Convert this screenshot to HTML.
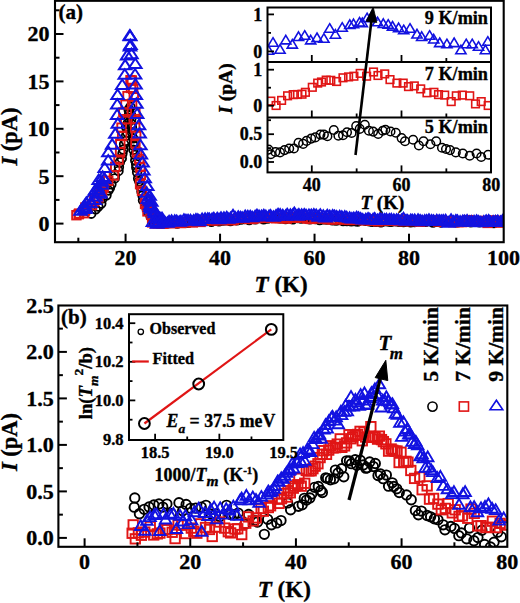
<!DOCTYPE html>
<html><head><meta charset="utf-8"><style>
html,body{margin:0;padding:0;background:#fff;width:520px;height:603px;overflow:hidden}
svg{display:block}
text{font-family:"Liberation Serif",serif;stroke:#000;stroke-width:0.35px}
</style></head><body>
<svg width="520" height="603" viewBox="0 0 520 603">
<rect width="520" height="603" fill="#fff"/>
<defs>
<clipPath id="ca"><rect x="55.0" y="0.8" width="448.7" height="241.39999999999998"/></clipPath>
</defs>
<g clip-path="url(#ca)">
<g fill="none" stroke="#000" stroke-width="1.8"><circle cx="91.27" cy="213.69" r="4.30"/><circle cx="95.71" cy="209.33" r="4.30"/><circle cx="98.35" cy="206.54" r="4.30"/><circle cx="101.30" cy="203.58" r="4.30"/><circle cx="102.68" cy="198.32" r="4.30"/><circle cx="106.50" cy="195.29" r="4.30"/><circle cx="108.45" cy="190.44" r="4.30"/><circle cx="109.91" cy="187.90" r="4.30"/><circle cx="111.41" cy="184.28" r="4.30"/><circle cx="114.69" cy="178.39" r="4.30"/><circle cx="114.84" cy="175.34" r="4.30"/><circle cx="118.53" cy="170.92" r="4.30"/><circle cx="118.95" cy="166.90" r="4.30"/><circle cx="119.87" cy="162.21" r="4.30"/><circle cx="121.78" cy="158.39" r="4.30"/><circle cx="122.46" cy="153.49" r="4.30"/><circle cx="123.29" cy="149.54" r="4.30"/><circle cx="124.08" cy="144.21" r="4.30"/><circle cx="125.83" cy="140.83" r="4.30"/><circle cx="126.10" cy="135.64" r="4.30"/><circle cx="127.34" cy="132.52" r="4.30"/><circle cx="126.09" cy="126.99" r="4.30"/><circle cx="127.79" cy="123.28" r="4.30"/><circle cx="128.72" cy="118.22" r="4.30"/><circle cx="129.08" cy="114.26" r="4.30"/><circle cx="128.64" cy="109.63" r="4.30"/><circle cx="130.41" cy="106.90" r="4.30"/><circle cx="129.09" cy="109.64" r="4.30"/><circle cx="131.13" cy="115.42" r="4.30"/><circle cx="131.28" cy="119.04" r="4.30"/><circle cx="131.60" cy="124.11" r="4.30"/><circle cx="132.00" cy="127.69" r="4.30"/><circle cx="132.15" cy="132.64" r="4.30"/><circle cx="133.18" cy="138.32" r="4.30"/><circle cx="134.12" cy="141.89" r="4.30"/><circle cx="133.67" cy="145.81" r="4.30"/><circle cx="133.41" cy="149.79" r="4.30"/><circle cx="134.83" cy="154.84" r="4.30"/><circle cx="135.22" cy="160.45" r="4.30"/><circle cx="136.17" cy="164.24" r="4.30"/><circle cx="136.26" cy="167.62" r="4.30"/><circle cx="137.10" cy="172.29" r="4.30"/><circle cx="138.14" cy="178.47" r="4.30"/><circle cx="139.29" cy="181.25" r="4.30"/><circle cx="140.75" cy="186.87" r="4.30"/><circle cx="141.45" cy="191.47" r="4.30"/><circle cx="142.54" cy="195.62" r="4.30"/><circle cx="142.98" cy="200.32" r="4.30"/><circle cx="145.45" cy="203.00" r="4.30"/><circle cx="146.52" cy="208.33" r="4.30"/><circle cx="148.14" cy="211.89" r="4.30"/><circle cx="150.59" cy="216.46" r="4.30"/><circle cx="153.79" cy="219.45" r="4.30"/><circle cx="153.43" cy="223.12" r="4.30"/><circle cx="157.90" cy="223.45" r="4.30"/><circle cx="161.72" cy="223.45" r="4.30"/><circle cx="165.90" cy="223.44" r="4.30"/><circle cx="168.59" cy="223.18" r="4.30"/><circle cx="172.76" cy="221.57" r="4.30"/><circle cx="177.23" cy="223.57" r="4.30"/><circle cx="179.72" cy="222.68" r="4.30"/><circle cx="184.41" cy="222.15" r="4.30"/><circle cx="188.39" cy="222.77" r="4.30"/><circle cx="192.04" cy="221.43" r="4.30"/><circle cx="195.67" cy="221.67" r="4.30"/><circle cx="198.90" cy="220.89" r="4.30"/><circle cx="203.00" cy="221.43" r="4.30"/><circle cx="207.25" cy="220.86" r="4.30"/><circle cx="211.41" cy="221.71" r="4.30"/><circle cx="214.19" cy="220.89" r="4.30"/><circle cx="218.99" cy="221.30" r="4.30"/><circle cx="222.67" cy="220.44" r="4.30"/><circle cx="225.19" cy="220.40" r="4.30"/><circle cx="230.39" cy="220.95" r="4.30"/><circle cx="232.91" cy="219.98" r="4.30"/><circle cx="237.08" cy="220.41" r="4.30"/><circle cx="241.01" cy="219.63" r="4.30"/><circle cx="244.78" cy="219.17" r="4.30"/><circle cx="249.21" cy="219.99" r="4.30"/><circle cx="252.86" cy="218.73" r="4.30"/><circle cx="255.33" cy="219.38" r="4.30"/><circle cx="260.42" cy="218.13" r="4.30"/><circle cx="263.65" cy="219.23" r="4.30"/><circle cx="267.70" cy="218.64" r="4.30"/><circle cx="271.22" cy="217.91" r="4.30"/><circle cx="274.45" cy="217.86" r="4.30"/><circle cx="279.56" cy="218.25" r="4.30"/><circle cx="281.64" cy="218.42" r="4.30"/><circle cx="285.54" cy="218.96" r="4.30"/><circle cx="289.59" cy="218.30" r="4.30"/><circle cx="292.89" cy="219.42" r="4.30"/><circle cx="297.75" cy="217.94" r="4.30"/><circle cx="300.99" cy="218.58" r="4.30"/><circle cx="305.81" cy="218.43" r="4.30"/><circle cx="309.81" cy="219.21" r="4.30"/><circle cx="312.29" cy="218.68" r="4.30"/><circle cx="315.54" cy="219.08" r="4.30"/><circle cx="319.64" cy="220.08" r="4.30"/><circle cx="323.34" cy="219.33" r="4.30"/><circle cx="326.90" cy="219.55" r="4.30"/><circle cx="332.41" cy="220.36" r="4.30"/><circle cx="336.08" cy="220.58" r="4.30"/><circle cx="339.14" cy="219.96" r="4.30"/><circle cx="343.16" cy="220.98" r="4.30"/><circle cx="346.89" cy="220.98" r="4.30"/><circle cx="351.27" cy="221.31" r="4.30"/><circle cx="354.64" cy="220.97" r="4.30"/><circle cx="357.51" cy="221.47" r="4.30"/><circle cx="361.82" cy="219.99" r="4.30"/><circle cx="365.65" cy="220.79" r="4.30"/><circle cx="369.49" cy="221.30" r="4.30"/><circle cx="372.21" cy="221.88" r="4.30"/><circle cx="376.07" cy="221.88" r="4.30"/><circle cx="380.92" cy="222.20" r="4.30"/><circle cx="384.18" cy="221.39" r="4.30"/><circle cx="388.63" cy="221.61" r="4.30"/><circle cx="391.18" cy="221.74" r="4.30"/><circle cx="396.13" cy="221.36" r="4.30"/><circle cx="399.49" cy="221.84" r="4.30"/><circle cx="403.53" cy="222.01" r="4.30"/><circle cx="406.78" cy="221.45" r="4.30"/><circle cx="410.66" cy="222.23" r="4.30"/><circle cx="414.46" cy="222.14" r="4.30"/><circle cx="418.98" cy="221.32" r="4.30"/><circle cx="422.69" cy="221.83" r="4.30"/><circle cx="425.67" cy="221.80" r="4.30"/><circle cx="429.31" cy="221.11" r="4.30"/><circle cx="432.99" cy="222.64" r="4.30"/><circle cx="436.61" cy="221.69" r="4.30"/><circle cx="440.81" cy="222.44" r="4.30"/><circle cx="444.81" cy="221.23" r="4.30"/><circle cx="449.37" cy="221.81" r="4.30"/><circle cx="452.76" cy="221.65" r="4.30"/><circle cx="456.99" cy="222.36" r="4.30"/><circle cx="459.32" cy="221.94" r="4.30"/><circle cx="463.87" cy="221.75" r="4.30"/><circle cx="468.24" cy="221.27" r="4.30"/><circle cx="470.78" cy="222.23" r="4.30"/><circle cx="475.42" cy="221.25" r="4.30"/><circle cx="479.51" cy="222.25" r="4.30"/><circle cx="482.32" cy="221.91" r="4.30"/><circle cx="487.05" cy="222.19" r="4.30"/><circle cx="490.12" cy="221.70" r="4.30"/><circle cx="493.90" cy="223.05" r="4.30"/><circle cx="497.18" cy="221.58" r="4.30"/><circle cx="500.67" cy="221.25" r="4.30"/><circle cx="506.31" cy="222.52" r="4.30"/></g>
<g fill="none" stroke="#e01515" stroke-width="1.9"><rect x="72.19" y="210.96" width="8.50" height="8.50"/><rect x="74.50" y="209.95" width="8.50" height="8.50"/><rect x="74.84" y="209.33" width="8.50" height="8.50"/><rect x="79.84" y="208.93" width="8.50" height="8.50"/><rect x="80.64" y="206.36" width="8.50" height="8.50"/><rect x="81.14" y="205.06" width="8.50" height="8.50"/><rect x="81.10" y="203.30" width="8.50" height="8.50"/><rect x="82.68" y="203.53" width="8.50" height="8.50"/><rect x="87.62" y="200.81" width="8.50" height="8.50"/><rect x="89.98" y="197.11" width="8.50" height="8.50"/><rect x="90.49" y="195.50" width="8.50" height="8.50"/><rect x="94.28" y="193.17" width="8.50" height="8.50"/><rect x="96.88" y="188.77" width="8.50" height="8.50"/><rect x="97.79" y="187.07" width="8.50" height="8.50"/><rect x="99.41" y="183.23" width="8.50" height="8.50"/><rect x="103.99" y="176.58" width="8.50" height="8.50"/><rect x="109.71" y="171.22" width="8.50" height="8.50"/><rect x="110.97" y="162.60" width="8.50" height="8.50"/><rect x="114.28" y="155.37" width="8.50" height="8.50"/><rect x="115.85" y="148.10" width="8.50" height="8.50"/><rect x="116.03" y="139.41" width="8.50" height="8.50"/><rect x="117.93" y="131.60" width="8.50" height="8.50"/><rect x="117.28" y="123.42" width="8.50" height="8.50"/><rect x="120.98" y="114.97" width="8.50" height="8.50"/><rect x="119.10" y="108.23" width="8.50" height="8.50"/><rect x="121.22" y="100.13" width="8.50" height="8.50"/><rect x="123.27" y="91.86" width="8.50" height="8.50"/><rect x="126.78" y="83.69" width="8.50" height="8.50"/><rect x="126.21" y="75.90" width="8.50" height="8.50"/><rect x="127.62" y="76.23" width="8.50" height="8.50"/><rect x="128.93" y="84.60" width="8.50" height="8.50"/><rect x="129.53" y="92.52" width="8.50" height="8.50"/><rect x="127.87" y="99.59" width="8.50" height="8.50"/><rect x="131.09" y="107.94" width="8.50" height="8.50"/><rect x="131.45" y="114.86" width="8.50" height="8.50"/><rect x="130.94" y="123.08" width="8.50" height="8.50"/><rect x="131.96" y="131.70" width="8.50" height="8.50"/><rect x="131.17" y="138.95" width="8.50" height="8.50"/><rect x="132.76" y="148.30" width="8.50" height="8.50"/><rect x="135.02" y="154.75" width="8.50" height="8.50"/><rect x="136.09" y="162.65" width="8.50" height="8.50"/><rect x="136.55" y="170.56" width="8.50" height="8.50"/><rect x="135.83" y="179.97" width="8.50" height="8.50"/><rect x="137.77" y="186.55" width="8.50" height="8.50"/><rect x="141.60" y="195.71" width="8.50" height="8.50"/><rect x="140.79" y="199.68" width="8.50" height="8.50"/><rect x="142.80" y="202.91" width="8.50" height="8.50"/><rect x="143.23" y="207.14" width="8.50" height="8.50"/><rect x="147.01" y="210.45" width="8.50" height="8.50"/><rect x="149.95" y="212.36" width="8.50" height="8.50"/><rect x="151.83" y="214.08" width="8.50" height="8.50"/><rect x="154.66" y="215.86" width="8.50" height="8.50"/><rect x="147.87" y="218.14" width="8.50" height="8.50"/><rect x="150.64" y="219.13" width="8.50" height="8.50"/><rect x="153.93" y="219.00" width="8.50" height="8.50"/><rect x="159.14" y="219.42" width="8.50" height="8.50"/><rect x="162.19" y="218.64" width="8.50" height="8.50"/><rect x="166.78" y="218.88" width="8.50" height="8.50"/><rect x="170.42" y="218.82" width="8.50" height="8.50"/><rect x="174.11" y="217.63" width="8.50" height="8.50"/><rect x="176.97" y="218.80" width="8.50" height="8.50"/><rect x="180.88" y="217.94" width="8.50" height="8.50"/><rect x="185.68" y="217.75" width="8.50" height="8.50"/><rect x="188.57" y="218.16" width="8.50" height="8.50"/><rect x="191.89" y="216.64" width="8.50" height="8.50"/><rect x="196.34" y="217.67" width="8.50" height="8.50"/><rect x="199.45" y="216.25" width="8.50" height="8.50"/><rect x="203.61" y="215.51" width="8.50" height="8.50"/><rect x="208.63" y="216.30" width="8.50" height="8.50"/><rect x="211.85" y="215.99" width="8.50" height="8.50"/><rect x="215.07" y="214.46" width="8.50" height="8.50"/><rect x="219.14" y="215.94" width="8.50" height="8.50"/><rect x="223.17" y="215.59" width="8.50" height="8.50"/><rect x="227.58" y="216.06" width="8.50" height="8.50"/><rect x="229.56" y="215.50" width="8.50" height="8.50"/><rect x="233.86" y="214.24" width="8.50" height="8.50"/><rect x="238.18" y="213.67" width="8.50" height="8.50"/><rect x="241.84" y="213.89" width="8.50" height="8.50"/><rect x="244.85" y="214.65" width="8.50" height="8.50"/><rect x="248.78" y="214.65" width="8.50" height="8.50"/><rect x="253.10" y="213.81" width="8.50" height="8.50"/><rect x="257.60" y="213.58" width="8.50" height="8.50"/><rect x="261.06" y="212.76" width="8.50" height="8.50"/><rect x="263.55" y="213.58" width="8.50" height="8.50"/><rect x="267.93" y="212.97" width="8.50" height="8.50"/><rect x="271.66" y="214.04" width="8.50" height="8.50"/><rect x="275.57" y="213.79" width="8.50" height="8.50"/><rect x="280.53" y="213.33" width="8.50" height="8.50"/><rect x="282.52" y="214.34" width="8.50" height="8.50"/><rect x="286.95" y="213.04" width="8.50" height="8.50"/><rect x="291.83" y="213.57" width="8.50" height="8.50"/><rect x="295.44" y="212.14" width="8.50" height="8.50"/><rect x="298.80" y="213.34" width="8.50" height="8.50"/><rect x="302.89" y="214.32" width="8.50" height="8.50"/><rect x="306.60" y="214.67" width="8.50" height="8.50"/><rect x="310.21" y="214.20" width="8.50" height="8.50"/><rect x="313.42" y="213.43" width="8.50" height="8.50"/><rect x="316.93" y="213.88" width="8.50" height="8.50"/><rect x="321.13" y="214.43" width="8.50" height="8.50"/><rect x="324.03" y="214.95" width="8.50" height="8.50"/><rect x="328.00" y="215.20" width="8.50" height="8.50"/><rect x="332.03" y="215.16" width="8.50" height="8.50"/><rect x="336.18" y="214.63" width="8.50" height="8.50"/><rect x="339.88" y="215.34" width="8.50" height="8.50"/><rect x="344.55" y="215.65" width="8.50" height="8.50"/><rect x="347.56" y="215.70" width="8.50" height="8.50"/><rect x="351.35" y="215.19" width="8.50" height="8.50"/><rect x="354.80" y="215.22" width="8.50" height="8.50"/><rect x="359.52" y="216.16" width="8.50" height="8.50"/><rect x="363.62" y="215.12" width="8.50" height="8.50"/><rect x="367.31" y="216.49" width="8.50" height="8.50"/><rect x="369.94" y="215.45" width="8.50" height="8.50"/><rect x="373.87" y="217.08" width="8.50" height="8.50"/><rect x="378.67" y="216.10" width="8.50" height="8.50"/><rect x="381.23" y="215.60" width="8.50" height="8.50"/><rect x="384.56" y="216.27" width="8.50" height="8.50"/><rect x="388.29" y="216.32" width="8.50" height="8.50"/><rect x="393.37" y="216.74" width="8.50" height="8.50"/><rect x="396.48" y="215.50" width="8.50" height="8.50"/><rect x="399.69" y="217.01" width="8.50" height="8.50"/><rect x="403.72" y="215.93" width="8.50" height="8.50"/><rect x="407.93" y="216.97" width="8.50" height="8.50"/><rect x="412.39" y="216.48" width="8.50" height="8.50"/><rect x="415.58" y="217.37" width="8.50" height="8.50"/><rect x="418.66" y="216.99" width="8.50" height="8.50"/><rect x="423.43" y="216.57" width="8.50" height="8.50"/><rect x="427.17" y="216.34" width="8.50" height="8.50"/><rect x="429.99" y="216.22" width="8.50" height="8.50"/><rect x="433.79" y="217.26" width="8.50" height="8.50"/><rect x="439.07" y="217.40" width="8.50" height="8.50"/><rect x="442.33" y="217.01" width="8.50" height="8.50"/><rect x="446.50" y="217.23" width="8.50" height="8.50"/><rect x="448.86" y="217.88" width="8.50" height="8.50"/><rect x="454.20" y="217.84" width="8.50" height="8.50"/><rect x="457.95" y="217.85" width="8.50" height="8.50"/><rect x="461.54" y="216.78" width="8.50" height="8.50"/><rect x="464.08" y="215.89" width="8.50" height="8.50"/><rect x="468.43" y="217.51" width="8.50" height="8.50"/><rect x="472.85" y="217.54" width="8.50" height="8.50"/><rect x="476.50" y="216.98" width="8.50" height="8.50"/><rect x="479.06" y="216.66" width="8.50" height="8.50"/><rect x="483.26" y="218.66" width="8.50" height="8.50"/><rect x="488.27" y="216.23" width="8.50" height="8.50"/><rect x="490.80" y="216.65" width="8.50" height="8.50"/><rect x="495.88" y="218.41" width="8.50" height="8.50"/><rect x="497.89" y="216.71" width="8.50" height="8.50"/><rect x="501.77" y="216.94" width="8.50" height="8.50"/></g>
<g fill="none" stroke="#1212e0" stroke-width="2"><path d="M80.59 205.20L86.84 214.70L74.34 214.70Z"/><path d="M84.82 203.48L91.07 212.98L78.57 212.98Z"/><path d="M85.52 202.86L91.77 212.36L79.27 212.36Z"/><path d="M83.31 201.80L89.56 211.30L77.06 211.30Z"/><path d="M84.77 200.08L91.02 209.58L78.52 209.58Z"/><path d="M86.35 197.30L92.60 206.80L80.10 206.80Z"/><path d="M90.51 197.75L96.76 207.25L84.26 207.25Z"/><path d="M89.42 194.18L95.67 203.68L83.17 203.68Z"/><path d="M94.77 194.59L101.02 204.09L88.52 204.09Z"/><path d="M95.58 191.11L101.83 200.61L89.33 200.61Z"/><path d="M99.84 188.13L106.09 197.63L93.59 197.63Z"/><path d="M99.97 186.94L106.22 196.44L93.72 196.44Z"/><path d="M95.32 184.50L101.57 194.00L89.07 194.00Z"/><path d="M97.70 184.67L103.95 194.17L91.45 194.17Z"/><path d="M97.49 181.93L103.74 191.43L91.24 191.43Z"/><path d="M101.89 179.23L108.14 188.73L95.64 188.73Z"/><path d="M101.88 176.22L108.13 185.72L95.63 185.72Z"/><path d="M98.70 174.57L104.95 184.07L92.45 184.07Z"/><path d="M104.40 173.16L110.65 182.66L98.15 182.66Z"/><path d="M102.63 171.39L108.88 180.89L96.38 180.89Z"/><path d="M104.70 162.46L110.95 171.96L98.45 171.96Z"/><path d="M108.25 155.04L114.50 164.54L102.00 164.54Z"/><path d="M108.41 146.63L114.66 156.13L102.16 156.13Z"/><path d="M112.19 139.16L118.44 148.66L105.94 148.66Z"/><path d="M115.31 128.34L121.56 137.84L109.06 137.84Z"/><path d="M117.79 118.13L124.04 127.63L111.54 127.63Z"/><path d="M117.13 109.54L123.38 119.04L110.88 119.04Z"/><path d="M117.24 99.07L123.49 108.57L110.99 108.57Z"/><path d="M117.60 89.46L123.85 98.96L111.35 98.96Z"/><path d="M122.24 79.49L128.49 88.99L115.99 88.99Z"/><path d="M124.77 69.23L131.02 78.73L118.52 78.73Z"/><path d="M125.18 59.86L131.43 69.36L118.93 69.36Z"/><path d="M127.16 49.89L133.41 59.39L120.91 59.39Z"/><path d="M129.97 41.04L136.22 50.54L123.72 50.54Z"/><path d="M130.15 30.67L136.40 40.17L123.90 40.17Z"/><path d="M129.78 30.17L136.03 39.67L123.53 39.67Z"/><path d="M130.47 39.61L136.72 49.11L124.22 49.11Z"/><path d="M131.43 48.64L137.68 58.14L125.18 58.14Z"/><path d="M135.30 58.50L141.55 68.00L129.05 68.00Z"/><path d="M135.07 68.96L141.32 78.46L128.82 78.46Z"/><path d="M135.51 78.98L141.76 88.48L129.26 88.48Z"/><path d="M135.78 89.60L142.03 99.10L129.53 99.10Z"/><path d="M136.38 98.36L142.63 107.86L130.13 107.86Z"/><path d="M137.13 108.38L143.38 117.88L130.88 117.88Z"/><path d="M138.98 119.63L145.23 129.13L132.73 129.13Z"/><path d="M139.65 128.02L145.90 137.52L133.40 137.52Z"/><path d="M140.36 139.72L146.61 149.22L134.11 149.22Z"/><path d="M140.83 148.92L147.08 158.42L134.58 158.42Z"/><path d="M142.57 156.96L148.82 166.46L136.32 166.46Z"/><path d="M143.30 164.98L149.55 174.48L137.05 174.48Z"/><path d="M144.64 172.85L150.89 182.35L138.39 182.35Z"/><path d="M147.22 180.59L153.47 190.09L140.97 190.09Z"/><path d="M146.67 187.36L152.92 196.86L140.42 196.86Z"/><path d="M149.62 190.35L155.87 199.85L143.37 199.85Z"/><path d="M147.90 193.40L154.15 202.90L141.65 202.90Z"/><path d="M149.69 195.07L155.94 204.57L143.44 204.57Z"/><path d="M151.29 196.27L157.54 205.77L145.04 205.77Z"/><path d="M150.41 199.54L156.66 209.04L144.16 209.04Z"/><path d="M150.44 201.40L156.69 210.90L144.19 210.90Z"/><path d="M151.17 203.27L157.42 212.77L144.92 212.77Z"/><path d="M154.09 205.69L160.34 215.19L147.84 215.19Z"/><path d="M155.62 206.70L161.87 216.20L149.37 216.20Z"/><path d="M154.87 207.83L161.12 217.33L148.62 217.33Z"/><path d="M157.42 210.11L163.67 219.61L151.17 219.61Z"/><path d="M157.61 212.45L163.86 221.95L151.36 221.95Z"/><path d="M160.92 212.91L167.17 222.41L154.67 222.41Z"/><path d="M162.10 212.82L168.35 222.32L155.85 222.32Z"/><path d="M152.94 216.41L159.19 225.91L146.69 225.91Z"/><path d="M155.77 216.60L162.02 226.10L149.52 226.10Z"/><path d="M157.12 218.21L163.37 227.71L150.87 227.71Z"/><path d="M159.57 216.70L165.82 226.20L153.32 226.20Z"/><path d="M162.49 216.67L168.74 226.17L156.24 226.17Z"/><path d="M164.65 216.54L170.90 226.04L158.40 226.04Z"/><path d="M167.39 217.27L173.64 226.77L161.14 226.77Z"/><path d="M169.11 215.83L175.36 225.33L162.86 225.33Z"/><path d="M171.57 215.41L177.82 224.91L165.32 224.91Z"/><path d="M174.74 215.32L180.99 224.82L168.49 224.82Z"/><path d="M176.71 215.62L182.96 225.12L170.46 225.12Z"/><path d="M179.25 216.21L185.50 225.71L173.00 225.71Z"/><path d="M180.85 215.73L187.10 225.23L174.60 225.23Z"/><path d="M183.95 214.34L190.20 223.84L177.70 223.84Z"/><path d="M185.95 214.74L192.20 224.24L179.70 224.24Z"/><path d="M188.07 214.79L194.32 224.29L181.82 224.29Z"/><path d="M190.51 214.76L196.76 224.26L184.26 224.26Z"/><path d="M193.59 215.16L199.84 224.66L187.34 224.66Z"/><path d="M195.94 214.00L202.19 223.50L189.69 223.50Z"/><path d="M197.85 214.27L204.10 223.77L191.60 223.77Z"/><path d="M199.66 215.66L205.91 225.16L193.41 225.16Z"/><path d="M202.12 213.55L208.37 223.05L195.87 223.05Z"/><path d="M205.06 213.38L211.31 222.88L198.81 222.88Z"/><path d="M207.77 213.23L214.02 222.73L201.52 222.73Z"/><path d="M209.32 213.45L215.57 222.95L203.07 222.95Z"/><path d="M212.08 213.53L218.33 223.03L205.83 223.03Z"/><path d="M213.82 212.76L220.07 222.26L207.57 222.26Z"/><path d="M217.25 212.81L223.50 222.31L211.00 222.31Z"/><path d="M219.02 213.85L225.27 223.35L212.77 223.35Z"/><path d="M221.00 212.39L227.25 221.89L214.75 221.89Z"/><path d="M223.93 212.34L230.18 221.84L217.68 221.84Z"/><path d="M226.74 211.77L232.99 221.27L220.49 221.27Z"/><path d="M228.04 213.34L234.29 222.84L221.79 222.84Z"/><path d="M230.51 212.63L236.76 222.13L224.26 222.13Z"/><path d="M233.01 209.83L239.26 219.33L226.76 219.33Z"/><path d="M235.20 212.09L241.45 221.59L228.95 221.59Z"/><path d="M238.25 211.35L244.50 220.85L232.00 220.85Z"/><path d="M240.50 211.81L246.75 221.31L234.25 221.31Z"/><path d="M242.20 212.22L248.45 221.72L235.95 221.72Z"/><path d="M245.20 210.65L251.45 220.15L238.95 220.15Z"/><path d="M247.78 210.75L254.03 220.25L241.53 220.25Z"/><path d="M250.25 210.85L256.50 220.35L244.00 220.35Z"/><path d="M252.28 211.72L258.53 221.22L246.03 221.22Z"/><path d="M255.12 210.75L261.37 220.25L248.87 220.25Z"/><path d="M257.00 209.69L263.25 219.19L250.75 219.19Z"/><path d="M259.07 210.64L265.32 220.14L252.82 220.14Z"/><path d="M261.55 210.50L267.80 220.00L255.30 220.00Z"/><path d="M263.79 209.87L270.04 219.37L257.54 219.37Z"/><path d="M265.87 210.69L272.12 220.19L259.62 220.19Z"/><path d="M269.05 210.56L275.30 220.06L262.80 220.06Z"/><path d="M270.52 210.04L276.77 219.54L264.27 219.54Z"/><path d="M273.44 211.32L279.69 220.82L267.19 220.82Z"/><path d="M276.05 210.01L282.30 219.51L269.80 219.51Z"/><path d="M278.08 208.85L284.33 218.35L271.83 218.35Z"/><path d="M280.21 209.19L286.46 218.69L273.96 218.69Z"/><path d="M282.74 209.88L288.99 219.38L276.49 219.38Z"/><path d="M285.68 210.27L291.93 219.77L279.43 219.77Z"/><path d="M287.22 208.81L293.47 218.31L280.97 218.31Z"/><path d="M290.38 209.41L296.63 218.91L284.13 218.91Z"/><path d="M292.90 209.20L299.15 218.70L286.65 218.70Z"/><path d="M294.31 207.61L300.56 217.11L288.06 217.11Z"/><path d="M297.19 210.14L303.44 219.64L290.94 219.64Z"/><path d="M298.85 209.11L305.10 218.61L292.60 218.61Z"/><path d="M301.65 209.42L307.90 218.92L295.40 218.92Z"/><path d="M304.28 209.03L310.53 218.53L298.03 218.53Z"/><path d="M306.08 209.80L312.33 219.30L299.83 219.30Z"/><path d="M308.94 209.55L315.19 219.05L302.69 219.05Z"/><path d="M311.30 209.56L317.55 219.06L305.05 219.06Z"/><path d="M313.83 209.16L320.08 218.66L307.58 218.66Z"/><path d="M316.20 209.66L322.45 219.16L309.95 219.16Z"/><path d="M318.63 211.14L324.88 220.64L312.38 220.64Z"/><path d="M320.29 209.30L326.54 218.80L314.04 218.80Z"/><path d="M323.30 210.24L329.55 219.74L317.05 219.74Z"/><path d="M325.40 211.92L331.65 221.42L319.15 221.42Z"/><path d="M327.29 209.91L333.54 219.41L321.04 219.41Z"/><path d="M329.74 210.61L335.99 220.11L323.49 220.11Z"/><path d="M332.64 210.05L338.89 219.55L326.39 219.55Z"/><path d="M334.53 210.58L340.78 220.08L328.28 220.08Z"/><path d="M336.64 210.98L342.89 220.48L330.39 220.48Z"/><path d="M339.65 210.85L345.90 220.35L333.40 220.35Z"/><path d="M341.81 211.30L348.06 220.80L335.56 220.80Z"/><path d="M344.83 211.18L351.08 220.68L338.58 220.68Z"/><path d="M346.71 211.82L352.96 221.32L340.46 221.32Z"/><path d="M349.61 212.22L355.86 221.72L343.36 221.72Z"/><path d="M351.85 213.09L358.10 222.59L345.60 222.59Z"/><path d="M353.79 212.67L360.04 222.17L347.54 222.17Z"/><path d="M356.59 211.76L362.84 221.26L350.34 221.26Z"/><path d="M358.52 212.38L364.77 221.88L352.27 221.88Z"/><path d="M360.60 213.06L366.85 222.56L354.35 222.56Z"/><path d="M362.73 214.06L368.98 223.56L356.48 223.56Z"/><path d="M365.79 213.87L372.04 223.37L359.54 223.37Z"/><path d="M368.08 213.00L374.33 222.50L361.83 222.50Z"/><path d="M369.76 213.80L376.01 223.30L363.51 223.30Z"/><path d="M373.09 213.81L379.34 223.31L366.84 223.31Z"/><path d="M374.69 213.01L380.94 222.51L368.44 222.51Z"/><path d="M377.52 214.57L383.77 224.07L371.27 224.07Z"/><path d="M380.18 212.84L386.43 222.34L373.93 222.34Z"/><path d="M382.23 213.59L388.48 223.09L375.98 223.09Z"/><path d="M384.67 214.10L390.92 223.60L378.42 223.60Z"/><path d="M386.45 213.82L392.70 223.32L380.20 223.32Z"/><path d="M389.31 213.98L395.56 223.48L383.06 223.48Z"/><path d="M391.37 213.94L397.62 223.44L385.12 223.44Z"/><path d="M393.87 214.41L400.12 223.91L387.62 223.91Z"/><path d="M396.59 214.40L402.84 223.90L390.34 223.90Z"/><path d="M398.43 214.43L404.68 223.93L392.18 223.93Z"/><path d="M401.53 214.65L407.78 224.15L395.28 224.15Z"/><path d="M403.46 212.72L409.71 222.22L397.21 222.22Z"/><path d="M406.11 215.04L412.36 224.54L399.86 224.54Z"/><path d="M407.61 215.09L413.86 224.59L401.36 224.59Z"/><path d="M410.77 214.50L417.02 224.00L404.52 224.00Z"/><path d="M412.44 214.86L418.69 224.36L406.19 224.36Z"/><path d="M414.71 214.63L420.96 224.13L408.46 224.13Z"/><path d="M418.04 214.36L424.29 223.86L411.79 223.86Z"/><path d="M420.17 215.12L426.42 224.62L413.92 224.62Z"/><path d="M422.21 215.68L428.46 225.18L415.96 225.18Z"/><path d="M424.77 215.18L431.02 224.68L418.52 224.68Z"/><path d="M426.66 215.15L432.91 224.65L420.41 224.65Z"/><path d="M428.98 214.35L435.23 223.85L422.73 223.85Z"/><path d="M431.62 215.05L437.87 224.55L425.37 224.55Z"/><path d="M433.59 215.26L439.84 224.76L427.34 224.76Z"/><path d="M436.77 214.79L443.02 224.29L430.52 224.29Z"/><path d="M439.20 215.11L445.45 224.61L432.95 224.61Z"/><path d="M441.27 215.28L447.52 224.78L435.02 224.78Z"/><path d="M443.24 215.12L449.49 224.62L436.99 224.62Z"/><path d="M445.63 214.82L451.88 224.32L439.38 224.32Z"/><path d="M448.57 217.14L454.82 226.64L442.32 226.64Z"/><path d="M451.07 214.23L457.32 223.73L444.82 223.73Z"/><path d="M453.45 216.07L459.70 225.57L447.20 225.57Z"/><path d="M455.87 215.05L462.12 224.55L449.62 224.55Z"/><path d="M457.38 215.22L463.63 224.72L451.13 224.72Z"/><path d="M460.16 216.18L466.41 225.68L453.91 225.68Z"/><path d="M462.80 215.57L469.05 225.07L456.55 225.07Z"/><path d="M464.64 215.48L470.89 224.98L458.39 224.98Z"/><path d="M467.08 215.12L473.33 224.62L460.83 224.62Z"/><path d="M469.62 216.32L475.87 225.82L463.37 225.82Z"/><path d="M471.48 215.98L477.73 225.48L465.23 225.48Z"/><path d="M474.10 215.90L480.35 225.40L467.85 225.40Z"/><path d="M476.63 215.37L482.88 224.87L470.38 224.87Z"/><path d="M478.57 215.99L484.82 225.49L472.32 225.49Z"/><path d="M480.87 216.72L487.12 226.22L474.62 226.22Z"/><path d="M483.81 216.19L490.06 225.69L477.56 225.69Z"/><path d="M486.15 215.22L492.40 224.72L479.90 224.72Z"/><path d="M488.69 215.05L494.94 224.55L482.44 224.55Z"/><path d="M490.40 216.60L496.65 226.10L484.15 226.10Z"/><path d="M493.16 215.97L499.41 225.47L486.91 225.47Z"/><path d="M495.53 215.81L501.78 225.31L489.28 225.31Z"/><path d="M497.80 215.56L504.05 225.06L491.55 225.06Z"/><path d="M500.59 216.41L506.84 225.91L494.34 225.91Z"/><path d="M502.57 215.14L508.82 224.64L496.32 224.64Z"/><path d="M504.66 215.39L510.91 224.89L498.41 224.89Z"/><path d="M507.32 215.92L513.57 225.42L501.07 225.42Z"/></g>
</g>
<line x1="125.58" y1="242.20" x2="125.58" y2="233.70" stroke="#000" stroke-width="2"/>
<line x1="220.06" y1="242.20" x2="220.06" y2="233.70" stroke="#000" stroke-width="2"/>
<line x1="314.54" y1="242.20" x2="314.54" y2="233.70" stroke="#000" stroke-width="2"/>
<line x1="409.02" y1="242.20" x2="409.02" y2="233.70" stroke="#000" stroke-width="2"/>
<line x1="78.34" y1="242.20" x2="78.34" y2="237.70" stroke="#000" stroke-width="2"/>
<line x1="172.82" y1="242.20" x2="172.82" y2="237.70" stroke="#000" stroke-width="2"/>
<line x1="267.30" y1="242.20" x2="267.30" y2="237.70" stroke="#000" stroke-width="2"/>
<line x1="361.78" y1="242.20" x2="361.78" y2="237.70" stroke="#000" stroke-width="2"/>
<line x1="456.26" y1="242.20" x2="456.26" y2="237.70" stroke="#000" stroke-width="2"/>
<line x1="55.00" y1="223.60" x2="63.50" y2="223.60" stroke="#000" stroke-width="2"/>
<line x1="55.00" y1="176.20" x2="63.50" y2="176.20" stroke="#000" stroke-width="2"/>
<line x1="55.00" y1="128.80" x2="63.50" y2="128.80" stroke="#000" stroke-width="2"/>
<line x1="55.00" y1="81.40" x2="63.50" y2="81.40" stroke="#000" stroke-width="2"/>
<line x1="55.00" y1="34.00" x2="63.50" y2="34.00" stroke="#000" stroke-width="2"/>
<line x1="55.00" y1="199.90" x2="59.50" y2="199.90" stroke="#000" stroke-width="2"/>
<line x1="55.00" y1="152.50" x2="59.50" y2="152.50" stroke="#000" stroke-width="2"/>
<line x1="55.00" y1="105.10" x2="59.50" y2="105.10" stroke="#000" stroke-width="2"/>
<line x1="55.00" y1="57.70" x2="59.50" y2="57.70" stroke="#000" stroke-width="2"/>
<line x1="55.00" y1="10.30" x2="59.50" y2="10.30" stroke="#000" stroke-width="2"/>
<rect x="55.00" y="0.80" width="448.70" height="241.40" fill="none" stroke="#000" stroke-width="2.1"/>
<text x="49.60" y="231.00" font-size="22" text-anchor="end" font-family="Liberation Serif" font-weight="bold" >0</text>
<text x="49.60" y="183.60" font-size="22" text-anchor="end" font-family="Liberation Serif" font-weight="bold" >5</text>
<text x="49.60" y="136.20" font-size="22" text-anchor="end" font-family="Liberation Serif" font-weight="bold" >10</text>
<text x="49.60" y="88.80" font-size="22" text-anchor="end" font-family="Liberation Serif" font-weight="bold" >15</text>
<text x="49.60" y="41.40" font-size="22" text-anchor="end" font-family="Liberation Serif" font-weight="bold" >20</text>
<text x="125.58" y="265.20" font-size="22" text-anchor="middle" font-family="Liberation Serif" font-weight="bold" >20</text>
<text x="220.06" y="265.20" font-size="22" text-anchor="middle" font-family="Liberation Serif" font-weight="bold" >40</text>
<text x="314.54" y="265.20" font-size="22" text-anchor="middle" font-family="Liberation Serif" font-weight="bold" >60</text>
<text x="409.02" y="265.20" font-size="22" text-anchor="middle" font-family="Liberation Serif" font-weight="bold" >80</text>
<text x="503.50" y="265.20" font-size="22" text-anchor="middle" font-family="Liberation Serif" font-weight="bold" >100</text>
<text x="254.60" y="292.30" font-size="23" text-anchor="start" font-family="Liberation Serif" font-weight="bold" ><tspan font-style="italic">T</tspan> (K)</text>
<text transform="translate(17.2,136.5) rotate(-90)" font-size="22.5" text-anchor="middle" font-family="Liberation Serif" font-weight="bold"><tspan font-style="italic">I</tspan> (pA)</text>
<text x="58.50" y="18.80" font-size="21" text-anchor="start" font-family="Liberation Serif" font-weight="bold" >(a)</text>
<rect x="267.5" y="7.5" width="223.5" height="164.9" fill="#fff"/>
<clipPath id="ci"><rect x="267.5" y="7.5" width="223.5" height="164.9"/></clipPath>
<g clip-path="url(#ci)">
<g fill="none" stroke="#1212e0" stroke-width="1.6"><path d="M268.50 45.70L273.60 54.30L263.40 54.30Z"/><path d="M273.00 37.70L278.10 46.30L267.90 46.30Z"/><path d="M280.00 44.70L285.10 53.30L274.90 53.30Z"/><path d="M285.80 35.30L290.90 43.90L280.70 43.90Z"/><path d="M292.30 39.50L297.40 48.10L287.20 48.10Z"/><path d="M298.50 31.90L303.60 40.50L293.40 40.50Z"/><path d="M304.70 30.70L309.80 39.30L299.60 39.30Z"/><path d="M310.70 35.30L315.80 43.90L305.60 43.90Z"/><path d="M317.00 33.00L322.10 41.60L311.90 41.60Z"/><path d="M323.90 33.70L329.00 42.30L318.80 42.30Z"/><path d="M329.70 23.70L334.80 32.30L324.60 32.30Z"/><path d="M335.40 29.60L340.50 38.20L330.30 38.20Z"/><path d="M342.20 22.70L347.30 31.30L337.10 31.30Z"/><path d="M349.80 19.90L354.90 28.50L344.70 28.50Z"/><path d="M353.50 19.10L358.60 27.70L348.40 27.70Z"/><path d="M359.50 17.50L364.60 26.10L354.40 26.10Z"/><path d="M362.30 18.00L367.40 26.60L357.20 26.60Z"/><path d="M367.10 13.20L372.20 21.80L362.00 21.80Z"/><path d="M371.90 11.30L377.00 19.90L366.80 19.90Z"/><path d="M377.50 17.20L382.60 25.80L372.40 25.80Z"/><path d="M383.30 18.90L388.40 27.50L378.20 27.50Z"/><path d="M388.20 19.70L393.30 28.30L383.10 28.30Z"/><path d="M392.50 21.50L397.60 30.10L387.40 30.10Z"/><path d="M398.60 23.10L403.70 31.70L393.50 31.70Z"/><path d="M403.70 25.20L408.80 33.80L398.60 33.80Z"/><path d="M410.00 23.70L415.10 32.30L404.90 32.30Z"/><path d="M417.00 29.40L422.10 38.00L411.90 38.00Z"/><path d="M421.70 31.90L426.80 40.50L416.60 40.50Z"/><path d="M429.60 30.70L434.70 39.30L424.50 39.30Z"/><path d="M433.70 34.40L438.80 43.00L428.60 43.00Z"/><path d="M439.70 38.00L444.80 46.60L434.60 46.60Z"/><path d="M446.90 39.20L452.00 47.80L441.80 47.80Z"/><path d="M454.10 38.00L459.20 46.60L449.00 46.60Z"/><path d="M460.90 45.20L466.00 53.80L455.80 53.80Z"/><path d="M466.20 39.20L471.30 47.80L461.10 47.80Z"/><path d="M472.20 39.20L477.30 47.80L467.10 47.80Z"/><path d="M478.50 41.70L483.60 50.30L473.40 50.30Z"/><path d="M485.40 45.20L490.50 53.80L480.30 53.80Z"/><path d="M487.80 36.70L492.90 45.30L482.70 45.30Z"/></g>
<g fill="none" stroke="#e01515" stroke-width="1.6"><rect x="267.00" y="97.30" width="7.60" height="7.60"/><rect x="272.30" y="101.70" width="7.60" height="7.60"/><rect x="277.80" y="96.60" width="7.60" height="7.60"/><rect x="283.80" y="92.00" width="7.60" height="7.60"/><rect x="289.40" y="90.80" width="7.60" height="7.60"/><rect x="293.70" y="90.70" width="7.60" height="7.60"/><rect x="298.20" y="90.40" width="7.60" height="7.60"/><rect x="301.60" y="88.50" width="7.60" height="7.60"/><rect x="308.50" y="83.50" width="7.60" height="7.60"/><rect x="313.90" y="79.30" width="7.60" height="7.60"/><rect x="317.70" y="78.20" width="7.60" height="7.60"/><rect x="322.40" y="76.30" width="7.60" height="7.60"/><rect x="327.00" y="76.50" width="7.60" height="7.60"/><rect x="332.80" y="77.70" width="7.60" height="7.60"/><rect x="339.20" y="74.00" width="7.60" height="7.60"/><rect x="344.80" y="73.10" width="7.60" height="7.60"/><rect x="350.10" y="72.40" width="7.60" height="7.60"/><rect x="356.40" y="69.60" width="7.60" height="7.60"/><rect x="362.80" y="72.40" width="7.60" height="7.60"/><rect x="369.70" y="68.20" width="7.60" height="7.60"/><rect x="374.20" y="71.70" width="7.60" height="7.60"/><rect x="380.90" y="70.10" width="7.60" height="7.60"/><rect x="386.20" y="75.80" width="7.60" height="7.60"/><rect x="393.10" y="79.30" width="7.60" height="7.60"/><rect x="399.40" y="79.30" width="7.60" height="7.60"/><rect x="404.70" y="82.80" width="7.60" height="7.60"/><rect x="410.50" y="82.10" width="7.60" height="7.60"/><rect x="416.90" y="85.10" width="7.60" height="7.60"/><rect x="423.20" y="89.00" width="7.60" height="7.60"/><rect x="430.10" y="88.50" width="7.60" height="7.60"/><rect x="434.70" y="90.80" width="7.60" height="7.60"/><rect x="440.90" y="91.30" width="7.60" height="7.60"/><rect x="447.40" y="97.80" width="7.60" height="7.60"/><rect x="452.50" y="92.00" width="7.60" height="7.60"/><rect x="458.50" y="91.30" width="7.60" height="7.60"/><rect x="465.90" y="92.00" width="7.60" height="7.60"/><rect x="471.70" y="100.10" width="7.60" height="7.60"/><rect x="477.40" y="97.80" width="7.60" height="7.60"/><rect x="484.40" y="101.70" width="7.60" height="7.60"/></g>
<g fill="none" stroke="#000" stroke-width="1.5"><circle cx="268.50" cy="149.60" r="4.30"/><circle cx="270.80" cy="154.30" r="4.30"/><circle cx="275.40" cy="152.00" r="4.30"/><circle cx="280.00" cy="152.40" r="4.30"/><circle cx="284.60" cy="150.10" r="4.30"/><circle cx="289.20" cy="148.50" r="4.30"/><circle cx="293.90" cy="148.50" r="4.30"/><circle cx="298.50" cy="142.70" r="4.30"/><circle cx="303.10" cy="143.90" r="4.30"/><circle cx="306.60" cy="140.90" r="4.30"/><circle cx="311.20" cy="138.60" r="4.30"/><circle cx="315.30" cy="137.40" r="4.30"/><circle cx="320.40" cy="134.60" r="4.30"/><circle cx="323.90" cy="134.60" r="4.30"/><circle cx="327.40" cy="136.20" r="4.30"/><circle cx="333.80" cy="130.00" r="4.30"/><circle cx="338.40" cy="135.80" r="4.30"/><circle cx="343.00" cy="135.30" r="4.30"/><circle cx="347.00" cy="132.30" r="4.30"/><circle cx="351.60" cy="133.00" r="4.30"/><circle cx="356.20" cy="126.10" r="4.30"/><circle cx="359.70" cy="128.90" r="4.30"/><circle cx="364.80" cy="124.70" r="4.30"/><circle cx="368.90" cy="130.70" r="4.30"/><circle cx="373.10" cy="131.60" r="4.30"/><circle cx="378.20" cy="133.90" r="4.30"/><circle cx="382.80" cy="130.70" r="4.30"/><circle cx="385.40" cy="129.70" r="4.30"/><circle cx="390.50" cy="131.50" r="4.30"/><circle cx="395.80" cy="132.70" r="4.30"/><circle cx="401.60" cy="138.10" r="4.30"/><circle cx="405.00" cy="141.30" r="4.30"/><circle cx="413.10" cy="139.70" r="4.30"/><circle cx="418.90" cy="145.50" r="4.30"/><circle cx="423.50" cy="141.30" r="4.30"/><circle cx="430.40" cy="144.30" r="4.30"/><circle cx="436.20" cy="141.30" r="4.30"/><circle cx="442.00" cy="147.80" r="4.30"/><circle cx="446.00" cy="149.00" r="4.30"/><circle cx="450.00" cy="150.10" r="4.30"/><circle cx="455.80" cy="152.40" r="4.30"/><circle cx="462.80" cy="153.50" r="4.30"/><circle cx="469.70" cy="155.80" r="4.30"/><circle cx="476.60" cy="153.50" r="4.30"/><circle cx="481.20" cy="157.00" r="4.30"/><circle cx="488.20" cy="154.70" r="4.30"/></g>
</g>
<line x1="311.80" y1="62.00" x2="311.80" y2="55.00" stroke="#000" stroke-width="1.8"/>
<line x1="401.50" y1="62.00" x2="401.50" y2="55.00" stroke="#000" stroke-width="1.8"/>
<line x1="356.65" y1="62.00" x2="356.65" y2="58.00" stroke="#000" stroke-width="1.8"/>
<line x1="446.35" y1="62.00" x2="446.35" y2="58.00" stroke="#000" stroke-width="1.8"/>
<line x1="311.80" y1="117.50" x2="311.80" y2="110.50" stroke="#000" stroke-width="1.8"/>
<line x1="401.50" y1="117.50" x2="401.50" y2="110.50" stroke="#000" stroke-width="1.8"/>
<line x1="356.65" y1="117.50" x2="356.65" y2="113.50" stroke="#000" stroke-width="1.8"/>
<line x1="446.35" y1="117.50" x2="446.35" y2="113.50" stroke="#000" stroke-width="1.8"/>
<line x1="311.80" y1="172.40" x2="311.80" y2="165.40" stroke="#000" stroke-width="1.8"/>
<line x1="401.50" y1="172.40" x2="401.50" y2="165.40" stroke="#000" stroke-width="1.8"/>
<line x1="356.65" y1="172.40" x2="356.65" y2="168.40" stroke="#000" stroke-width="1.8"/>
<line x1="446.35" y1="172.40" x2="446.35" y2="168.40" stroke="#000" stroke-width="1.8"/>
<line x1="267.50" y1="14.40" x2="274.00" y2="14.40" stroke="#000" stroke-width="1.8"/>
<line x1="267.50" y1="51.40" x2="274.00" y2="51.40" stroke="#000" stroke-width="1.8"/>
<line x1="267.50" y1="69.70" x2="274.00" y2="69.70" stroke="#000" stroke-width="1.8"/>
<line x1="267.50" y1="105.70" x2="274.00" y2="105.70" stroke="#000" stroke-width="1.8"/>
<line x1="267.50" y1="134.20" x2="274.00" y2="134.20" stroke="#000" stroke-width="1.8"/>
<line x1="267.50" y1="162.00" x2="274.00" y2="162.00" stroke="#000" stroke-width="1.8"/>
<line x1="267.50" y1="32.90" x2="271.00" y2="32.90" stroke="#000" stroke-width="1.8"/>
<line x1="267.50" y1="87.70" x2="271.00" y2="87.70" stroke="#000" stroke-width="1.8"/>
<line x1="267.50" y1="120.20" x2="271.00" y2="120.20" stroke="#000" stroke-width="1.8"/>
<line x1="267.50" y1="148.10" x2="271.00" y2="148.10" stroke="#000" stroke-width="1.8"/>
<rect x="267.50" y="7.50" width="223.50" height="164.90" fill="none" stroke="#000" stroke-width="2"/>
<line x1="267.50" y1="62.00" x2="491.00" y2="62.00" stroke="#000" stroke-width="2"/>
<line x1="267.50" y1="117.50" x2="491.00" y2="117.50" stroke="#000" stroke-width="2"/>
<text x="262.30" y="20.50" font-size="18" text-anchor="end" font-family="Liberation Serif" font-weight="bold" >1</text>
<text x="262.30" y="57.50" font-size="18" text-anchor="end" font-family="Liberation Serif" font-weight="bold" >0</text>
<text x="262.30" y="75.80" font-size="18" text-anchor="end" font-family="Liberation Serif" font-weight="bold" >1</text>
<text x="262.30" y="111.80" font-size="18" text-anchor="end" font-family="Liberation Serif" font-weight="bold" >0</text>
<text x="262.30" y="140.30" font-size="18" text-anchor="end" font-family="Liberation Serif" font-weight="bold" >0.5</text>
<text x="262.30" y="168.10" font-size="18" text-anchor="end" font-family="Liberation Serif" font-weight="bold" >0.0</text>
<text x="311.80" y="191.00" font-size="18" text-anchor="middle" font-family="Liberation Serif" font-weight="bold" >40</text>
<text x="401.50" y="191.00" font-size="18" text-anchor="middle" font-family="Liberation Serif" font-weight="bold" >60</text>
<text x="491.20" y="191.00" font-size="18" text-anchor="middle" font-family="Liberation Serif" font-weight="bold" >80</text>
<text x="360.50" y="209.20" font-size="19" text-anchor="start" font-family="Liberation Serif" font-weight="bold" ><tspan font-style="italic">T</tspan> (K)</text>
<text transform="translate(232.2,88.5) rotate(-90)" font-size="19.5" text-anchor="middle" font-family="Liberation Serif" font-weight="bold"><tspan font-style="italic">I</tspan> (pA)</text>
<text x="488.00" y="24.20" font-size="18.2" text-anchor="end" font-family="Liberation Serif" font-weight="bold" >9 K/min</text>
<text x="488.00" y="79.60" font-size="18.2" text-anchor="end" font-family="Liberation Serif" font-weight="bold" >7 K/min</text>
<text x="488.00" y="133.40" font-size="18.2" text-anchor="end" font-family="Liberation Serif" font-weight="bold" >5 K/min</text>
<line x1="355.50" y1="155.00" x2="371.50" y2="20.00" stroke="#000" stroke-width="2.6"/>
<path d="M373.2 7 L376.8 22.5 L366.2 21.3 Z" fill="#000" stroke="#000" stroke-width="0.8" stroke-linejoin="round"/>
<clipPath id="cb"><rect x="58.4" y="305.5" width="448.90000000000003" height="241.29999999999995"/></clipPath>
<g clip-path="url(#cb)">
<g fill="none" stroke="#000" stroke-width="1.9"><circle cx="134.79" cy="497.91" r="4.70"/><circle cx="134.26" cy="507.21" r="4.70"/><circle cx="139.41" cy="513.73" r="4.70"/><circle cx="144.20" cy="509.35" r="4.70"/><circle cx="149.07" cy="506.89" r="4.70"/><circle cx="153.84" cy="504.98" r="4.70"/><circle cx="158.93" cy="503.92" r="4.70"/><circle cx="162.76" cy="507.05" r="4.70"/><circle cx="166.90" cy="504.11" r="4.70"/><circle cx="171.52" cy="513.71" r="4.70"/><circle cx="178.96" cy="502.75" r="4.70"/><circle cx="182.67" cy="510.87" r="4.70"/><circle cx="186.11" cy="504.52" r="4.70"/><circle cx="190.59" cy="508.31" r="4.70"/><circle cx="195.72" cy="508.09" r="4.70"/><circle cx="201.25" cy="507.11" r="4.70"/><circle cx="205.94" cy="505.36" r="4.70"/><circle cx="211.26" cy="514.05" r="4.70"/><circle cx="215.62" cy="513.91" r="4.70"/><circle cx="219.74" cy="516.46" r="4.70"/><circle cx="226.55" cy="505.34" r="4.70"/><circle cx="230.48" cy="514.40" r="4.70"/><circle cx="234.11" cy="514.77" r="4.70"/><circle cx="238.17" cy="513.03" r="4.70"/><circle cx="244.91" cy="524.32" r="4.70"/><circle cx="248.58" cy="514.40" r="4.70"/><circle cx="254.96" cy="520.46" r="4.70"/><circle cx="257.58" cy="522.05" r="4.70"/><circle cx="264.34" cy="534.28" r="4.70"/><circle cx="267.63" cy="519.36" r="4.70"/><circle cx="271.46" cy="524.76" r="4.70"/><circle cx="276.77" cy="522.95" r="4.70"/><circle cx="281.01" cy="520.56" r="4.70"/><circle cx="287.68" cy="502.91" r="4.70"/><circle cx="290.60" cy="509.77" r="4.70"/><circle cx="298.39" cy="506.37" r="4.70"/><circle cx="302.20" cy="504.78" r="4.70"/><circle cx="304.29" cy="498.33" r="4.70"/><circle cx="306.52" cy="500.12" r="4.70"/><circle cx="309.88" cy="498.00" r="4.70"/><circle cx="311.69" cy="494.08" r="4.70"/><circle cx="314.57" cy="487.35" r="4.70"/><circle cx="318.33" cy="486.49" r="4.70"/><circle cx="320.83" cy="490.43" r="4.70"/><circle cx="322.40" cy="492.62" r="4.70"/><circle cx="325.73" cy="477.84" r="4.70"/><circle cx="327.51" cy="478.30" r="4.70"/><circle cx="330.40" cy="479.77" r="4.70"/><circle cx="333.86" cy="478.84" r="4.70"/><circle cx="335.39" cy="470.07" r="4.70"/><circle cx="338.06" cy="473.02" r="4.70"/><circle cx="341.51" cy="468.67" r="4.70"/><circle cx="343.79" cy="476.85" r="4.70"/><circle cx="346.61" cy="460.83" r="4.70"/><circle cx="349.40" cy="460.90" r="4.70"/><circle cx="351.37" cy="463.72" r="4.70"/><circle cx="355.21" cy="459.65" r="4.70"/><circle cx="356.71" cy="465.31" r="4.70"/><circle cx="360.22" cy="460.24" r="4.70"/><circle cx="363.20" cy="464.92" r="4.70"/><circle cx="365.73" cy="468.17" r="4.70"/><circle cx="367.14" cy="467.74" r="4.70"/><circle cx="369.68" cy="461.96" r="4.70"/><circle cx="373.38" cy="466.59" r="4.70"/><circle cx="375.31" cy="463.49" r="4.70"/><circle cx="378.01" cy="475.55" r="4.70"/><circle cx="380.46" cy="473.92" r="4.70"/><circle cx="383.19" cy="478.65" r="4.70"/><circle cx="386.35" cy="475.11" r="4.70"/><circle cx="388.55" cy="486.13" r="4.70"/><circle cx="392.20" cy="482.79" r="4.70"/><circle cx="393.82" cy="486.44" r="4.70"/><circle cx="396.74" cy="488.80" r="4.70"/><circle cx="399.26" cy="492.57" r="4.70"/><circle cx="406.51" cy="494.92" r="4.70"/><circle cx="411.23" cy="499.74" r="4.70"/><circle cx="415.40" cy="510.53" r="4.70"/><circle cx="418.42" cy="514.86" r="4.70"/><circle cx="421.33" cy="511.12" r="4.70"/><circle cx="427.12" cy="515.51" r="4.70"/><circle cx="430.59" cy="516.87" r="4.70"/><circle cx="434.39" cy="518.73" r="4.70"/><circle cx="437.99" cy="519.71" r="4.70"/><circle cx="443.18" cy="524.86" r="4.70"/><circle cx="444.95" cy="529.84" r="4.70"/><circle cx="450.87" cy="526.47" r="4.70"/><circle cx="454.45" cy="528.41" r="4.70"/><circle cx="458.83" cy="535.70" r="4.70"/><circle cx="461.45" cy="532.93" r="4.70"/><circle cx="466.65" cy="538.85" r="4.70"/><circle cx="469.53" cy="528.03" r="4.70"/><circle cx="473.87" cy="540.65" r="4.70"/><circle cx="477.95" cy="537.61" r="4.70"/><circle cx="481.88" cy="530.18" r="4.70"/><circle cx="484.58" cy="544.44" r="4.70"/><circle cx="490.44" cy="547.02" r="4.70"/><circle cx="494.05" cy="542.20" r="4.70"/><circle cx="497.66" cy="532.22" r="4.70"/><circle cx="501.29" cy="536.78" r="4.70"/></g>
<g fill="none" stroke="#e01515" stroke-width="1.9"><rect x="128.50" y="520.18" width="9.40" height="9.40"/><rect x="127.45" y="528.55" width="9.40" height="9.40"/><rect x="130.62" y="534.13" width="9.40" height="9.40"/><rect x="133.73" y="528.14" width="9.40" height="9.40"/><rect x="136.69" y="530.57" width="9.40" height="9.40"/><rect x="140.10" y="527.39" width="9.40" height="9.40"/><rect x="145.57" y="521.86" width="9.40" height="9.40"/><rect x="149.00" y="530.27" width="9.40" height="9.40"/><rect x="152.64" y="529.17" width="9.40" height="9.40"/><rect x="155.19" y="528.37" width="9.40" height="9.40"/><rect x="160.57" y="524.64" width="9.40" height="9.40"/><rect x="162.39" y="524.92" width="9.40" height="9.40"/><rect x="167.48" y="527.59" width="9.40" height="9.40"/><rect x="170.41" y="533.88" width="9.40" height="9.40"/><rect x="173.40" y="520.21" width="9.40" height="9.40"/><rect x="177.19" y="520.51" width="9.40" height="9.40"/><rect x="180.95" y="528.86" width="9.40" height="9.40"/><rect x="186.64" y="523.40" width="9.40" height="9.40"/><rect x="189.09" y="526.58" width="9.40" height="9.40"/><rect x="192.15" y="528.49" width="9.40" height="9.40"/><rect x="195.91" y="519.17" width="9.40" height="9.40"/><rect x="200.79" y="522.79" width="9.40" height="9.40"/><rect x="204.75" y="524.77" width="9.40" height="9.40"/><rect x="207.53" y="531.77" width="9.40" height="9.40"/><rect x="211.40" y="522.40" width="9.40" height="9.40"/><rect x="214.89" y="517.30" width="9.40" height="9.40"/><rect x="219.88" y="523.39" width="9.40" height="9.40"/><rect x="223.60" y="527.00" width="9.40" height="9.40"/><rect x="225.94" y="528.20" width="9.40" height="9.40"/><rect x="230.36" y="524.31" width="9.40" height="9.40"/><rect x="233.05" y="524.09" width="9.40" height="9.40"/><rect x="237.03" y="529.85" width="9.40" height="9.40"/><rect x="241.03" y="518.52" width="9.40" height="9.40"/><rect x="243.68" y="512.21" width="9.40" height="9.40"/><rect x="248.47" y="516.22" width="9.40" height="9.40"/><rect x="251.51" y="513.20" width="9.40" height="9.40"/><rect x="256.43" y="503.81" width="9.40" height="9.40"/><rect x="258.64" y="506.49" width="9.40" height="9.40"/><rect x="263.65" y="502.87" width="9.40" height="9.40"/><rect x="265.89" y="501.10" width="9.40" height="9.40"/><rect x="272.91" y="494.49" width="9.40" height="9.40"/><rect x="274.35" y="498.68" width="9.40" height="9.40"/><rect x="276.88" y="493.93" width="9.40" height="9.40"/><rect x="279.35" y="488.81" width="9.40" height="9.40"/><rect x="282.21" y="492.37" width="9.40" height="9.40"/><rect x="283.38" y="486.01" width="9.40" height="9.40"/><rect x="285.63" y="488.11" width="9.40" height="9.40"/><rect x="288.59" y="483.46" width="9.40" height="9.40"/><rect x="290.17" y="481.39" width="9.40" height="9.40"/><rect x="293.06" y="480.01" width="9.40" height="9.40"/><rect x="294.26" y="473.60" width="9.40" height="9.40"/><rect x="296.52" y="481.44" width="9.40" height="9.40"/><rect x="300.02" y="478.57" width="9.40" height="9.40"/><rect x="301.58" y="465.75" width="9.40" height="9.40"/><rect x="304.18" y="466.20" width="9.40" height="9.40"/><rect x="306.45" y="466.10" width="9.40" height="9.40"/><rect x="308.27" y="463.98" width="9.40" height="9.40"/><rect x="310.42" y="461.47" width="9.40" height="9.40"/><rect x="313.26" y="459.06" width="9.40" height="9.40"/><rect x="315.41" y="452.89" width="9.40" height="9.40"/><rect x="317.60" y="449.61" width="9.40" height="9.40"/><rect x="319.03" y="445.98" width="9.40" height="9.40"/><rect x="321.81" y="449.67" width="9.40" height="9.40"/><rect x="324.04" y="445.39" width="9.40" height="9.40"/><rect x="325.66" y="441.05" width="9.40" height="9.40"/><rect x="328.45" y="443.21" width="9.40" height="9.40"/><rect x="330.93" y="442.92" width="9.40" height="9.40"/><rect x="332.53" y="439.38" width="9.40" height="9.40"/><rect x="335.50" y="434.17" width="9.40" height="9.40"/><rect x="337.16" y="442.64" width="9.40" height="9.40"/><rect x="339.91" y="441.20" width="9.40" height="9.40"/><rect x="341.86" y="438.18" width="9.40" height="9.40"/><rect x="344.27" y="430.00" width="9.40" height="9.40"/><rect x="346.34" y="434.05" width="9.40" height="9.40"/><rect x="348.00" y="432.12" width="9.40" height="9.40"/><rect x="350.70" y="430.61" width="9.40" height="9.40"/><rect x="352.89" y="429.75" width="9.40" height="9.40"/><rect x="355.36" y="426.65" width="9.40" height="9.40"/><rect x="357.59" y="436.09" width="9.40" height="9.40"/><rect x="359.31" y="427.34" width="9.40" height="9.40"/><rect x="360.95" y="432.33" width="9.40" height="9.40"/><rect x="363.51" y="432.69" width="9.40" height="9.40"/><rect x="366.17" y="421.96" width="9.40" height="9.40"/><rect x="368.20" y="431.95" width="9.40" height="9.40"/><rect x="370.40" y="432.63" width="9.40" height="9.40"/><rect x="372.85" y="434.43" width="9.40" height="9.40"/><rect x="374.67" y="431.43" width="9.40" height="9.40"/><rect x="376.78" y="434.90" width="9.40" height="9.40"/><rect x="378.69" y="436.91" width="9.40" height="9.40"/><rect x="381.20" y="439.14" width="9.40" height="9.40"/><rect x="383.88" y="446.43" width="9.40" height="9.40"/><rect x="386.47" y="444.32" width="9.40" height="9.40"/><rect x="388.09" y="445.56" width="9.40" height="9.40"/><rect x="390.25" y="446.40" width="9.40" height="9.40"/><rect x="392.34" y="446.31" width="9.40" height="9.40"/><rect x="394.42" y="457.83" width="9.40" height="9.40"/><rect x="396.33" y="447.59" width="9.40" height="9.40"/><rect x="399.02" y="457.76" width="9.40" height="9.40"/><rect x="401.33" y="456.67" width="9.40" height="9.40"/><rect x="403.27" y="457.46" width="9.40" height="9.40"/><rect x="406.12" y="465.78" width="9.40" height="9.40"/><rect x="409.87" y="473.71" width="9.40" height="9.40"/><rect x="415.07" y="472.23" width="9.40" height="9.40"/><rect x="417.46" y="485.02" width="9.40" height="9.40"/><rect x="422.45" y="481.20" width="9.40" height="9.40"/><rect x="424.80" y="494.45" width="9.40" height="9.40"/><rect x="428.87" y="493.71" width="9.40" height="9.40"/><rect x="433.19" y="499.42" width="9.40" height="9.40"/><rect x="436.62" y="505.04" width="9.40" height="9.40"/><rect x="440.60" y="503.69" width="9.40" height="9.40"/><rect x="443.50" y="498.87" width="9.40" height="9.40"/><rect x="447.60" y="508.15" width="9.40" height="9.40"/><rect x="450.49" y="505.08" width="9.40" height="9.40"/><rect x="454.38" y="511.66" width="9.40" height="9.40"/><rect x="457.68" y="511.10" width="9.40" height="9.40"/><rect x="463.06" y="513.56" width="9.40" height="9.40"/><rect x="466.31" y="504.42" width="9.40" height="9.40"/><rect x="469.54" y="508.68" width="9.40" height="9.40"/><rect x="473.09" y="521.21" width="9.40" height="9.40"/><rect x="476.35" y="520.95" width="9.40" height="9.40"/><rect x="481.12" y="522.85" width="9.40" height="9.40"/><rect x="485.21" y="522.59" width="9.40" height="9.40"/><rect x="487.75" y="516.50" width="9.40" height="9.40"/><rect x="491.77" y="522.90" width="9.40" height="9.40"/><rect x="495.45" y="518.66" width="9.40" height="9.40"/><rect x="500.05" y="520.42" width="9.40" height="9.40"/></g>
<g fill="none" stroke="#1212e0" stroke-width="1.9"><path d="M140.67 520.17L146.42 529.97L134.92 529.97Z"/><path d="M144.96 524.91L150.71 534.71L139.21 534.71Z"/><path d="M146.87 514.95L152.62 524.75L141.12 524.75Z"/><path d="M150.11 511.37L155.86 521.17L144.36 521.17Z"/><path d="M154.25 509.17L160.00 518.97L148.50 518.97Z"/><path d="M156.43 508.43L162.18 518.23L150.68 518.23Z"/><path d="M159.76 525.19L165.51 534.99L154.01 534.99Z"/><path d="M163.52 508.36L169.27 518.16L157.77 518.16Z"/><path d="M165.56 513.69L171.31 523.49L159.81 523.49Z"/><path d="M170.36 509.03L176.11 518.83L164.61 518.83Z"/><path d="M173.42 508.00L179.17 517.80L167.67 517.80Z"/><path d="M176.46 523.19L182.21 532.99L170.71 532.99Z"/><path d="M180.02 509.95L185.77 519.75L174.27 519.75Z"/><path d="M183.00 515.69L188.75 525.49L177.25 525.49Z"/><path d="M185.48 510.16L191.23 519.96L179.73 519.96Z"/><path d="M188.54 518.36L194.29 528.16L182.79 528.16Z"/><path d="M191.59 514.58L197.34 524.38L185.84 524.38Z"/><path d="M194.29 506.50L200.04 516.30L188.54 516.30Z"/><path d="M198.79 502.69L204.54 512.49L193.04 512.49Z"/><path d="M201.72 525.90L207.47 535.70L195.97 535.70Z"/><path d="M204.63 507.27L210.38 517.07L198.88 517.07Z"/><path d="M208.03 510.18L213.78 519.98L202.28 519.98Z"/><path d="M210.76 504.17L216.51 513.97L205.01 513.97Z"/><path d="M214.08 501.64L219.83 511.44L208.33 511.44Z"/><path d="M216.73 513.61L222.48 523.41L210.98 523.41Z"/><path d="M220.17 502.30L225.92 512.10L214.42 512.10Z"/><path d="M222.84 508.83L228.59 518.63L217.09 518.63Z"/><path d="M226.21 503.31L231.96 513.11L220.46 513.11Z"/><path d="M229.30 504.80L235.05 514.60L223.55 514.60Z"/><path d="M233.34 500.74L239.09 510.54L227.59 510.54Z"/><path d="M237.08 509.97L242.83 519.77L231.33 519.77Z"/><path d="M240.22 494.41L245.97 504.21L234.47 504.21Z"/><path d="M241.69 492.66L247.44 502.46L235.94 502.46Z"/><path d="M246.37 489.95L252.12 499.75L240.62 499.75Z"/><path d="M249.17 494.55L254.92 504.35L243.42 504.35Z"/><path d="M252.77 491.54L258.52 501.34L247.02 501.34Z"/><path d="M255.98 494.01L261.73 503.81L250.23 503.81Z"/><path d="M259.08 497.04L264.83 506.84L253.33 506.84Z"/><path d="M261.34 491.07L267.09 500.87L255.59 500.87Z"/><path d="M266.86 488.72L272.61 498.52L261.11 498.52Z"/><path d="M268.30 485.58L274.05 495.38L262.55 495.38Z"/><path d="M270.16 486.51L275.91 496.31L264.41 496.31Z"/><path d="M271.97 485.57L277.72 495.37L266.22 495.37Z"/><path d="M273.98 482.98L279.73 492.78L268.23 492.78Z"/><path d="M275.40 480.13L281.15 489.93L269.65 489.93Z"/><path d="M277.63 475.60L283.38 485.40L271.88 485.40Z"/><path d="M278.85 476.01L284.60 485.81L273.10 485.81Z"/><path d="M281.29 472.46L287.04 482.26L275.54 482.26Z"/><path d="M283.04 472.94L288.79 482.74L277.29 482.74Z"/><path d="M284.76 469.91L290.51 479.71L279.01 479.71Z"/><path d="M286.50 467.10L292.25 476.90L280.75 476.90Z"/><path d="M289.08 464.97L294.83 474.77L283.33 474.77Z"/><path d="M289.95 464.01L295.70 473.81L284.20 473.81Z"/><path d="M292.33 457.74L298.08 467.54L286.58 467.54Z"/><path d="M293.60 462.74L299.35 472.54L287.85 472.54Z"/><path d="M296.29 455.99L302.04 465.79L290.54 465.79Z"/><path d="M297.22 457.16L302.97 466.96L291.47 466.96Z"/><path d="M300.14 448.37L305.89 458.17L294.39 458.17Z"/><path d="M301.49 456.67L307.24 466.47L295.74 466.47Z"/><path d="M303.09 447.20L308.84 457.00L297.34 457.00Z"/><path d="M304.65 455.03L310.40 464.83L298.90 464.83Z"/><path d="M307.28 443.55L313.03 453.35L301.53 453.35Z"/><path d="M308.60 444.38L314.35 454.18L302.85 454.18Z"/><path d="M310.44 446.18L316.19 455.98L304.69 455.98Z"/><path d="M312.66 438.29L318.41 448.09L306.91 448.09Z"/><path d="M314.17 431.87L319.92 441.67L308.42 441.67Z"/><path d="M315.93 433.25L321.68 443.05L310.18 443.05Z"/><path d="M318.00 429.84L323.75 439.64L312.25 439.64Z"/><path d="M319.50 428.72L325.25 438.52L313.75 438.52Z"/><path d="M321.26 432.89L327.01 442.69L315.51 442.69Z"/><path d="M323.96 423.71L329.71 433.51L318.21 433.51Z"/><path d="M325.57 419.18L331.32 428.98L319.82 428.98Z"/><path d="M327.17 422.81L332.92 432.61L321.42 432.61Z"/><path d="M328.80 415.46L334.55 425.26L323.05 425.26Z"/><path d="M331.46 411.93L337.21 421.73L325.71 421.73Z"/><path d="M332.59 410.91L338.34 420.71L326.84 420.71Z"/><path d="M334.53 414.86L340.28 424.66L328.78 424.66Z"/><path d="M336.19 411.40L341.94 421.20L330.44 421.20Z"/><path d="M338.29 418.47L344.04 428.27L332.54 428.27Z"/><path d="M340.84 405.79L346.59 415.59L335.09 415.59Z"/><path d="M341.64 409.37L347.39 419.17L335.89 419.17Z"/><path d="M344.33 406.07L350.08 415.87L338.58 415.87Z"/><path d="M345.65 399.85L351.40 409.65L339.90 409.65Z"/><path d="M347.28 405.61L353.03 415.41L341.53 415.41Z"/><path d="M348.99 400.77L354.74 410.57L343.24 410.57Z"/><path d="M351.00 391.06L356.75 400.86L345.25 400.86Z"/><path d="M353.22 400.75L358.97 410.55L347.47 410.55Z"/><path d="M355.42 393.91L361.17 403.71L349.67 403.71Z"/><path d="M356.62 396.52L362.37 406.32L350.87 406.32Z"/><path d="M359.27 399.98L365.02 409.78L353.52 409.78Z"/><path d="M360.66 389.19L366.41 398.99L354.91 398.99Z"/><path d="M362.57 394.82L368.32 404.62L356.82 404.62Z"/><path d="M364.47 387.40L370.22 397.20L358.72 397.20Z"/><path d="M365.76 399.24L371.51 409.04L360.01 409.04Z"/><path d="M367.63 398.68L373.38 408.48L361.88 408.48Z"/><path d="M369.92 392.33L375.67 402.13L364.17 402.13Z"/><path d="M371.51 387.05L377.26 396.85L365.76 396.85Z"/><path d="M373.12 391.06L378.87 400.86L367.37 400.86Z"/><path d="M374.93 383.37L380.68 393.17L369.18 393.17Z"/><path d="M376.84 388.47L382.59 398.27L371.09 398.27Z"/><path d="M379.37 378.40L385.12 388.20L373.62 388.20Z"/><path d="M381.32 401.64L387.07 411.44L375.57 411.44Z"/><path d="M382.74 394.72L388.49 404.52L376.99 404.52Z"/><path d="M384.91 394.92L390.66 404.72L379.16 404.72Z"/><path d="M386.29 391.27L392.04 401.07L380.54 401.07Z"/><path d="M388.16 395.44L393.91 405.24L382.41 405.24Z"/><path d="M390.77 398.68L396.52 408.48L385.02 408.48Z"/><path d="M392.39 398.30L398.14 408.10L386.64 408.10Z"/><path d="M393.86 402.43L399.61 412.23L388.11 412.23Z"/><path d="M395.50 407.98L401.25 417.78L389.75 417.78Z"/><path d="M397.43 409.11L403.18 418.91L391.68 418.91Z"/><path d="M399.86 417.03L405.61 426.83L394.11 426.83Z"/><path d="M401.71 431.05L407.46 440.85L395.96 440.85Z"/><path d="M403.46 416.36L409.21 426.16L397.71 426.16Z"/><path d="M405.00 425.73L410.75 435.53L399.25 435.53Z"/><path d="M407.31 423.14L413.06 432.94L401.56 432.94Z"/><path d="M408.75 428.77L414.50 438.57L403.00 438.57Z"/><path d="M410.53 428.75L416.28 438.55L404.78 438.55Z"/><path d="M412.07 436.12L417.82 445.92L406.32 445.92Z"/><path d="M414.62 438.19L420.37 447.99L408.87 447.99Z"/><path d="M415.75 435.82L421.50 445.62L410.00 445.62Z"/><path d="M417.74 439.48L423.49 449.28L411.99 449.28Z"/><path d="M420.23 450.49L425.98 460.29L414.48 460.29Z"/><path d="M422.03 448.52L427.78 458.32L416.28 458.32Z"/><path d="M423.19 452.48L428.94 462.28L417.44 462.28Z"/><path d="M425.27 462.05L431.02 471.85L419.52 471.85Z"/><path d="M427.71 451.43L433.46 461.23L421.96 461.23Z"/><path d="M428.66 461.81L434.41 471.61L422.91 471.61Z"/><path d="M431.28 464.41L437.03 474.21L425.53 474.21Z"/><path d="M432.75 466.29L438.50 476.09L427.00 476.09Z"/><path d="M437.39 472.14L443.14 481.94L431.64 481.94Z"/><path d="M440.39 470.94L446.14 480.74L434.64 480.74Z"/><path d="M443.28 480.10L449.03 489.90L437.53 489.90Z"/><path d="M447.43 483.39L453.18 493.19L441.68 493.19Z"/><path d="M451.82 488.36L457.57 498.16L446.07 498.16Z"/><path d="M453.94 486.21L459.69 496.01L448.19 496.01Z"/><path d="M459.08 498.95L464.83 508.75L453.33 508.75Z"/><path d="M462.87 488.47L468.62 498.27L457.12 498.27Z"/><path d="M465.15 486.17L470.90 495.97L459.40 495.97Z"/><path d="M470.43 501.43L476.18 511.23L464.68 511.23Z"/><path d="M474.16 501.20L479.91 511.00L468.41 511.00Z"/><path d="M477.50 506.43L483.25 516.23L471.75 516.23Z"/><path d="M481.03 502.41L486.78 512.21L475.28 512.21Z"/><path d="M485.03 500.96L490.78 510.76L479.28 510.76Z"/><path d="M488.44 498.46L494.19 508.26L482.69 508.26Z"/><path d="M492.16 502.89L497.91 512.69L486.41 512.69Z"/><path d="M495.64 504.35L501.39 514.15L489.89 514.15Z"/><path d="M499.05 514.82L504.80 524.62L493.30 524.62Z"/><path d="M503.71 512.41L509.46 522.21L497.96 522.21Z"/></g>
</g>
<line x1="84.60" y1="546.80" x2="84.60" y2="538.30" stroke="#000" stroke-width="2"/>
<line x1="190.26" y1="546.80" x2="190.26" y2="538.30" stroke="#000" stroke-width="2"/>
<line x1="295.92" y1="546.80" x2="295.92" y2="538.30" stroke="#000" stroke-width="2"/>
<line x1="401.58" y1="546.80" x2="401.58" y2="538.30" stroke="#000" stroke-width="2"/>
<line x1="137.43" y1="546.80" x2="137.43" y2="542.30" stroke="#000" stroke-width="2"/>
<line x1="243.09" y1="546.80" x2="243.09" y2="542.30" stroke="#000" stroke-width="2"/>
<line x1="348.75" y1="546.80" x2="348.75" y2="542.30" stroke="#000" stroke-width="2"/>
<line x1="454.41" y1="546.80" x2="454.41" y2="542.30" stroke="#000" stroke-width="2"/>
<line x1="58.40" y1="537.90" x2="66.90" y2="537.90" stroke="#000" stroke-width="2"/>
<line x1="58.40" y1="491.40" x2="66.90" y2="491.40" stroke="#000" stroke-width="2"/>
<line x1="58.40" y1="444.90" x2="66.90" y2="444.90" stroke="#000" stroke-width="2"/>
<line x1="58.40" y1="398.40" x2="66.90" y2="398.40" stroke="#000" stroke-width="2"/>
<line x1="58.40" y1="351.90" x2="66.90" y2="351.90" stroke="#000" stroke-width="2"/>
<line x1="58.40" y1="514.65" x2="62.90" y2="514.65" stroke="#000" stroke-width="2"/>
<line x1="58.40" y1="468.15" x2="62.90" y2="468.15" stroke="#000" stroke-width="2"/>
<line x1="58.40" y1="421.65" x2="62.90" y2="421.65" stroke="#000" stroke-width="2"/>
<line x1="58.40" y1="375.15" x2="62.90" y2="375.15" stroke="#000" stroke-width="2"/>
<line x1="58.40" y1="328.65" x2="62.90" y2="328.65" stroke="#000" stroke-width="2"/>
<rect x="58.40" y="305.50" width="448.90" height="241.30" fill="none" stroke="#000" stroke-width="2.1"/>
<text x="53.70" y="545.30" font-size="22" text-anchor="end" font-family="Liberation Serif" font-weight="bold" >0.0</text>
<text x="53.70" y="498.80" font-size="22" text-anchor="end" font-family="Liberation Serif" font-weight="bold" >0.5</text>
<text x="53.70" y="452.30" font-size="22" text-anchor="end" font-family="Liberation Serif" font-weight="bold" >1.0</text>
<text x="53.70" y="405.80" font-size="22" text-anchor="end" font-family="Liberation Serif" font-weight="bold" >1.5</text>
<text x="53.70" y="359.30" font-size="22" text-anchor="end" font-family="Liberation Serif" font-weight="bold" >2.0</text>
<text x="53.70" y="312.80" font-size="22" text-anchor="end" font-family="Liberation Serif" font-weight="bold" >2.5</text>
<text x="84.60" y="568.80" font-size="22" text-anchor="middle" font-family="Liberation Serif" font-weight="bold" >0</text>
<text x="190.26" y="568.80" font-size="22" text-anchor="middle" font-family="Liberation Serif" font-weight="bold" >20</text>
<text x="295.92" y="568.80" font-size="22" text-anchor="middle" font-family="Liberation Serif" font-weight="bold" >40</text>
<text x="401.58" y="568.80" font-size="22" text-anchor="middle" font-family="Liberation Serif" font-weight="bold" >60</text>
<text x="507.24" y="568.80" font-size="22" text-anchor="middle" font-family="Liberation Serif" font-weight="bold" >80</text>
<text x="257.80" y="596.70" font-size="23" text-anchor="start" font-family="Liberation Serif" font-weight="bold" ><tspan font-style="italic">T</tspan> (K)</text>
<text transform="translate(17.2,442) rotate(-90)" font-size="22.5" text-anchor="middle" font-family="Liberation Serif" font-weight="bold"><tspan font-style="italic">I</tspan> (pA)</text>
<text x="61.10" y="323.50" font-size="21" text-anchor="start" font-family="Liberation Serif" font-weight="bold" >(b)</text>
<text transform="translate(437.9,381.7) rotate(-90)" font-size="21.5" font-family="Liberation Serif" font-weight="bold">5 K/min</text>
<text transform="translate(469.8,381.7) rotate(-90)" font-size="21.5" font-family="Liberation Serif" font-weight="bold">7 K/min</text>
<text transform="translate(502.6,381.7) rotate(-90)" font-size="21.5" font-family="Liberation Serif" font-weight="bold">9 K/min</text>
<circle cx="432.5" cy="406.6" r="4.6" fill="none" stroke="#000" stroke-width="1.6"/>
<rect x="459.3" y="401.9" width="9.2" height="9.2" fill="none" stroke="#e01515" stroke-width="1.6"/>
<path d="M496.4 400.2 L502.8 409.8 L490 409.8 Z" fill="none" stroke="#1212e0" stroke-width="1.6"/>
<text x="378.4" y="350.3" font-size="21" font-style="italic" font-family="Liberation Serif" font-weight="bold">T</text>
<text x="389.8" y="359.2" font-size="17" font-style="italic" font-family="Liberation Serif" font-weight="bold">m</text>
<line x1="349.00" y1="500.00" x2="382.00" y2="372.00" stroke="#000" stroke-width="3.2"/>
<path d="M385.8 360.3 L387.8 380.6 L375.2 377.6 Z" fill="#000" stroke="#000" stroke-width="1" stroke-linejoin="round"/>
<rect x="129.0" y="314.2" width="154.3" height="125.80000000000001" fill="#fff"/>
<line x1="129.00" y1="323.20" x2="135.30" y2="323.20" stroke="#000" stroke-width="1.8"/>
<line x1="129.00" y1="361.80" x2="135.30" y2="361.80" stroke="#000" stroke-width="1.8"/>
<line x1="129.00" y1="400.40" x2="135.30" y2="400.40" stroke="#000" stroke-width="1.8"/>
<line x1="129.00" y1="342.50" x2="132.50" y2="342.50" stroke="#000" stroke-width="1.8"/>
<line x1="129.00" y1="381.10" x2="132.50" y2="381.10" stroke="#000" stroke-width="1.8"/>
<line x1="129.00" y1="419.70" x2="132.50" y2="419.70" stroke="#000" stroke-width="1.8"/>
<line x1="155.10" y1="440.00" x2="155.10" y2="433.70" stroke="#000" stroke-width="1.8"/>
<line x1="219.35" y1="440.00" x2="219.35" y2="433.70" stroke="#000" stroke-width="1.8"/>
<line x1="187.22" y1="440.00" x2="187.22" y2="436.50" stroke="#000" stroke-width="1.8"/>
<line x1="251.47" y1="440.00" x2="251.47" y2="436.50" stroke="#000" stroke-width="1.8"/>
<rect x="129.00" y="314.20" width="154.30" height="125.80" fill="none" stroke="#000" stroke-width="2"/>
<text x="123.50" y="328.80" font-size="16.5" text-anchor="end" font-family="Liberation Serif" font-weight="bold" >10.4</text>
<text x="123.50" y="367.40" font-size="16.5" text-anchor="end" font-family="Liberation Serif" font-weight="bold" >10.2</text>
<text x="123.50" y="406.00" font-size="16.5" text-anchor="end" font-family="Liberation Serif" font-weight="bold" >10.0</text>
<text x="123.50" y="444.60" font-size="16.5" text-anchor="end" font-family="Liberation Serif" font-weight="bold" >9.8</text>
<text x="155.10" y="457.70" font-size="16.5" text-anchor="middle" font-family="Liberation Serif" font-weight="bold" >18.5</text>
<text x="219.35" y="457.70" font-size="16.5" text-anchor="middle" font-family="Liberation Serif" font-weight="bold" >19.0</text>
<text x="283.60" y="457.70" font-size="16.5" text-anchor="middle" font-family="Liberation Serif" font-weight="bold" >19.5</text>
<line x1="144.4" y1="423.5" x2="271.3" y2="329.4" stroke="#e01515" stroke-width="2.2"/>
<circle cx="144.4" cy="423.5" r="5.4" fill="none" stroke="#000" stroke-width="2"/>
<circle cx="198.7" cy="384" r="5.4" fill="none" stroke="#000" stroke-width="2"/>
<circle cx="271.3" cy="329.4" r="5.4" fill="none" stroke="#000" stroke-width="2"/>
<circle cx="140.8" cy="331.8" r="2.7" fill="none" stroke="#000" stroke-width="1.3"/>
<text x="149.60" y="334.00" font-size="16" text-anchor="start" font-family="Liberation Serif" font-weight="bold" >Observed</text>
<line x1="132.1" y1="361.5" x2="148.8" y2="361.5" stroke="#e01515" stroke-width="2.2"/>
<text x="152.50" y="364.40" font-size="16.3" text-anchor="start" font-family="Liberation Serif" font-weight="bold" >Fitted</text>
<text x="166.5" y="426.5" font-size="17.8" font-family="Liberation Serif" font-weight="bold"><tspan font-style="italic">E</tspan><tspan font-style="italic" font-size="13.5" dy="6.2">a</tspan><tspan dy="-6.2"> = 37.5 meV</tspan></text>
<text x="154.6" y="480.9" font-size="18" font-family="Liberation Serif" font-weight="bold">1000/<tspan font-style="italic">T</tspan><tspan font-style="italic" font-size="15.5" dy="5.5">m</tspan><tspan dy="-5.5"> (K</tspan><tspan font-size="11" dy="-7">-1</tspan><tspan dy="7">)</tspan></text>
<text transform="translate(92,419.3) rotate(-90)" font-size="18.7" font-family="Liberation Serif" font-weight="bold">ln(<tspan font-style="italic">T</tspan><tspan font-style="italic" font-size="13.5" dy="5.8">m</tspan><tspan font-size="13.5" dy="-15">2</tspan><tspan dy="9.2">/b)</tspan></text>
</svg>
</body></html>
